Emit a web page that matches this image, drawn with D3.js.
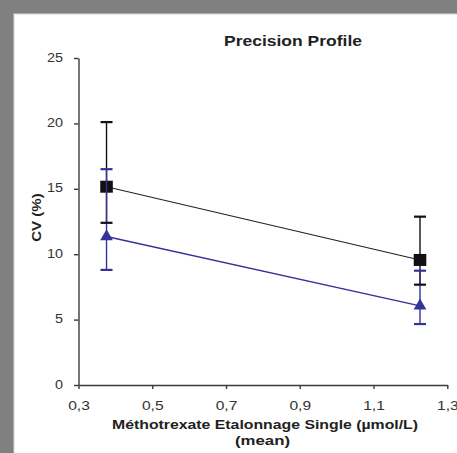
<!DOCTYPE html>
<html><head><meta charset="utf-8">
<script src="https://cdn.jsdelivr.net/npm/d3@7"></script>
<style>body{margin:0;background:#808080;overflow:hidden} svg{display:block}</style>
</head><body><svg id="c" width="457" height="453"></svg>
<script>
const xValues = [0.376, 1.226];
const squareValues = [15.16, 9.56];
const squareHigh = [20.1, 12.87];
const squareLow = [12.4, 7.67];
const triangleValues = [11.35, 6.05];
const triangleHigh = [16.5, 8.74];
const triangleLow = [8.8, 4.66];
const xTicks = [0.3, 0.5, 0.7, 0.9, 1.1, 1.3];
const yTicks = [0, 5, 10, 15, 20, 25];
const titleText = "Precision Profile";
const xTitle1 = "Méthotrexate Etalonnage Single (µmol/L)";
const xTitle2 = "(mean)";
const yTitleText = "CV (%)";

const FONT = "'Liberation Sans', Arial, sans-serif";
const svg = d3.select("#c");

svg.append("rect").attr("x",0).attr("y",0).attr("width",457).attr("height",453).attr("fill","#808080");
svg.append("rect").attr("x",14).attr("y",14).attr("width",444).attr("height",440)
  .attr("fill","#ffffff").attr("stroke","#d8d8d8").attr("stroke-width",1);

const x = d3.scaleLinear().domain([0.3, 1.3]).range([78.5, 447.3]);
const y = d3.scaleLinear().domain([0, 25]).range([385, 58]);

function stretch(sel, factor){
  sel.each(function(){
    const w = this.getComputedTextLength();
    d3.select(this).attr("textLength", w*factor).attr("lengthAdjust","spacingAndGlyphs");
  });
}

// axes
const gx = svg.append("g").attr("transform","translate(0,385)")
  .call(d3.axisBottom(x).tickValues(xTicks).tickSize(4).tickSizeOuter(0).tickPadding(12)
    .tickFormat(d => d3.format(".1f")(d).replace(".", ",")));
const gy = svg.append("g").attr("transform","translate(78.5,0)")
  .call(d3.axisLeft(y).tickValues(yTicks).tickSize(4.5).tickSizeOuter(0).tickPadding(11)
    .tickFormat(d3.format("d")));
[gx, gy].forEach(g => {
  g.select(".domain").attr("stroke","#3a3a3a").attr("stroke-width",1.4);
  g.selectAll(".tick line").attr("stroke","#3a3a3a").attr("stroke-width",1.4);
});
gx.selectAll(".tick text").attr("font-family",FONT).attr("font-size",13).attr("fill","#333");
gy.selectAll(".tick text").attr("font-family",FONT).attr("font-size",12).attr("fill","#333").attr("dy","0.25em");
stretch(gx.selectAll(".tick text"), 1.2);
stretch(gy.selectAll(".tick text"), 1.2);

// titles
svg.append("text").attr("x",293).attr("y",45.7).attr("text-anchor","middle")
  .attr("font-family",FONT).attr("font-weight","bold").attr("font-size",14.5).attr("fill","#222")
  .text(titleText).attr("textLength",138).attr("lengthAdjust","spacingAndGlyphs");
svg.append("text").attr("x",265).attr("y",428.5).attr("text-anchor","middle")
  .attr("font-family",FONT).attr("font-weight","bold").attr("font-size",12.5).attr("fill","#222")
  .text(xTitle1).attr("textLength",306).attr("lengthAdjust","spacingAndGlyphs");
svg.append("text").attr("x",262.5).attr("y",444.5).attr("text-anchor","middle")
  .attr("font-family",FONT).attr("font-weight","bold").attr("font-size",12.5).attr("fill","#222")
  .text(xTitle2).attr("textLength",55).attr("lengthAdjust","spacingAndGlyphs");
svg.append("text").attr("transform","translate(40.5,217.5) rotate(-90)").attr("text-anchor","middle")
  .attr("font-family",FONT).attr("font-weight","bold").attr("font-size",12.5).attr("fill","#222")
  .text(yTitleText).attr("textLength",48.5).attr("lengthAdjust","spacingAndGlyphs");

const BLACK = "#111111", BLUE = "#333399";
const sqData = xValues.map((v,i)=>({x:v, y:squareValues[i], hi:squareHigh[i], lo:squareLow[i]}));
const trData = xValues.map((v,i)=>({x:v, y:triangleValues[i], hi:triangleHigh[i], lo:triangleLow[i]}));
const line = d3.line().x(d=>x(d.x)).y(d=>y(d.y));

svg.append("path").datum(sqData).attr("d",line).attr("fill","none").attr("stroke","#222").attr("stroke-width",1.1);
svg.append("path").datum(trData).attr("d",line).attr("fill","none").attr("stroke",BLUE).attr("stroke-width",1.4);

function verticals(data, color){
  svg.append("g").selectAll("line").data(data).join("line")
    .attr("x1",d=>x(d.x)).attr("x2",d=>x(d.x)).attr("y1",d=>y(d.hi)).attr("y2",d=>y(d.lo))
    .attr("stroke",color).attr("stroke-width",1.4);
}
function caps(data, color){
  const g = svg.append("g");
  ["hi","lo"].forEach(k=>{
    g.selectAll("line."+k).data(data).join("line").attr("class",k)
      .attr("x1",d=>x(d.x)-6).attr("x2",d=>x(d.x)+6).attr("y1",d=>y(d[k])).attr("y2",d=>y(d[k]))
      .attr("stroke",color).attr("stroke-width",2.2);
  });
}
verticals(sqData, BLACK);
svg.append("g").selectAll("rect").data(sqData).join("rect")
  .attr("x",d=>x(d.x)-6.3).attr("y",d=>y(d.y)-6).attr("width",12.6).attr("height",12).attr("fill",BLACK);
verticals(trData, BLUE);
caps(sqData, BLACK);
caps(trData, BLUE);
const tri = d3.symbol().type(d3.symbolTriangle).size(70);
svg.append("g").selectAll("path").data(trData).join("path")
  .attr("transform",d=>`translate(${x(d.x)},${y(d.y)})`).attr("d",tri).attr("fill",BLUE);
</script></body></html>
